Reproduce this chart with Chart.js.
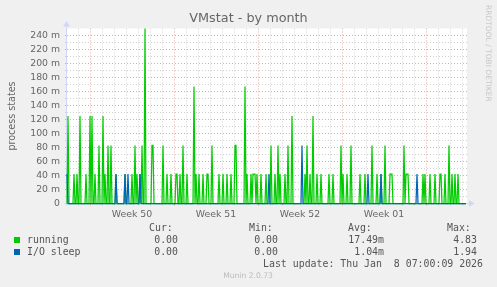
<!DOCTYPE html>
<html><head><meta charset="utf-8">
<script src="https://cdn.jsdelivr.net/npm/chart.js@4/dist/chart.umd.min.js"></script>
<style>html,body{margin:0;padding:0;background:#F0F0F0;}canvas{display:block;}</style>
</head><body>
<canvas id="c" width="497" height="287"></canvas>
<script>
const chartTitle = 'VMstat - by month';
const yAxisTitle = 'process states';
const seriesNames = ['running', 'I/O sleep'];
const seriesColors = ['#00CC00', '#0066B3'];
const startTime = Date.UTC(2025, 11, 6, 2);   // first 2-hour sample
const slotHours = 2;
const rangeHours = 800;
const weekLabels = ['Week 50', 'Week 51', 'Week 52', 'Week 01'];
const weekStartDates = ['2025-12-08', '2025-12-15', '2025-12-22', '2025-12-29', '2026-01-05'];
const yMajorTicks = [0, 0.02, 0.04, 0.06, 0.08, 0.10, 0.12, 0.14, 0.16, 0.18, 0.20, 0.22, 0.24];
const yMinorTicks = [0.01, 0.03, 0.05, 0.07, 0.09, 0.11, 0.13, 0.15, 0.17, 0.19, 0.21, 0.23];
const yMax = 0.25;

const running = [
0,.125,0,0,0,0,0,.042,0,0,.042,0,0,.125,0,0,0,0,0,.042,
0,0,0,.125,0,.125,0,0,.042,0,0,0,.083,0,0,0,.125,0,.042,0,
0,.083,0,0,.083,0,0,0,0,.042,0,0,0,0,0,0,0,0,.042,0,
0,0,0,0,0,.042,0,0,.083,0,.042,0,0,.042,0,.083,0,0,.25,0,
0,0,0,0,0,.083,.083,0,0,0,0,0,0,0,0,0,.083,0,0,0,
.042,0,0,0,.042,0,0,0,0,.042,.042,0,0,.042,0,0,.083,0,0,0,
.042,0,0,0,0,0,0,.167,0,.042,0,0,.042,0,0,0,.042,0,0,0,
.042,.042,0,0,0,.083,0,0,0,0,0,0,.042,0,0,0,.042,0,0,0,
.042,0,0,0,.042,0,0,0,.083,.083,0,0,0,0,0,0,0,0,.167,0,
.042,0,0,0,.042,0,.042,.042,.042,0,.042,0,0,0,.042,0,0,0,0,.042,
0,0,0,0,.083,0,0,0,.042,0,0,.083,0,.042,0,0,0,0,.042,0,
0,.083,0,0,0,.125,0,0,0,0,0,0,0,0,0,0,0,0,.042,0,
.083,0,0,.042,0,0,.125,0,0,0,.042,0,0,0,.042,0,0,0,0,0,
0,0,.042,0,0,0,.042,0,0,0,0,0,0,0,.083,0,.042,0,0,0,
.042,0,0,0,.083,0,0,0,0,0,0,0,0,.042,0,0,0,0,.042,0,
0,0,0,0,0,.083,0,0,0,0,.042,0,0,0,.042,0,0,0,.083,0,
0,0,0,.042,.042,.042,0,0,0,0,0,0,0,0,0,0,0,.083,0,.042,
.042,.042,0,0,0,0,0,0,0,0,0,0,0,0,0,0,.042,0,.042,0,
0,0,0,.042,0,0,0,0,.042,0,0,0,0,.042,.042,0,0,0,.042,0,
0,0,.083,0,0,.042,0,0,.042,0,0,.042,0,0,0,0,0,0,0,0
];
const ioSleep = [
.042,0,0,0,0,0,0,0,0,0,0,0,0,0,0,0,0,0,0,0,
0,0,0,0,0,0,0,0,0,0,0,0,0,0,0,0,0,0,0,0,
0,0,0,0,0,0,0,0,0,.042,0,0,0,0,0,0,0,0,.042,0,
0,.042,0,0,0,0,0,0,0,0,0,0,0,.042,0,0,0,0,0,0,
0,0,0,0,0,0,0,0,0,0,0,0,0,0,0,0,0,0,0,0,
0,0,0,0,0,0,0,0,0,0,0,0,0,0,0,0,0,0,0,0,
0,0,0,0,0,0,0,0,0,0,0,0,0,0,0,0,0,0,0,0,
0,0,0,0,0,0,0,0,0,0,0,0,0,0,0,0,0,0,0,0,
0,0,0,0,0,0,0,0,0,0,0,0,0,0,0,0,0,0,0,0,
0,0,0,0,0,0,0,0,0,0,0,0,0,0,0,0,0,0,0,0,
0,0,.042,0,0,0,0,0,0,0,0,0,0,0,0,0,0,0,0,0,
0,0,0,0,0,0,0,0,0,0,0,0,0,0,0,.083,0,0,0,0,
0,0,0,0,0,0,0,0,0,0,0,0,0,0,0,0,0,0,0,0,
0,0,0,0,0,0,0,0,0,0,0,0,0,0,0,0,0,0,0,0,
0,0,0,0,0,0,0,0,0,0,0,0,0,0,0,0,0,0,0,0,
0,.042,0,0,0,0,0,0,0,0,0,0,0,0,.042,0,0,0,0,0,
0,0,0,0,0,0,0,0,0,0,0,0,0,0,0,0,0,0,0,0,
0,0,0,0,0,0,0,0,0,0,.042,0,0,0,0,0,0,0,0,0,
0,0,0,0,0,0,0,0,0,0,0,0,0,0,0,0,0,0,0,0,
0,0,0,0,0,0,0,0,0,0,0,0,0,0,0,0,0,0,0,0
];
const statHeaders = ['Cur:', 'Min:', 'Avg:', 'Max:'];
const runningStats = ['0.00', '0.00', '17.49m', '4.83'];
const ioSleepStats = ['0.00', '0.00', '1.04m', '1.94'];
const lastUpdate = 'Last update: Thu Jan  8 07:00:09 2026';
const footerText = 'Munin 2.0.73';
const watermark = 'RRDTOOL / TOBI OETIKER';

// ---- derived helpers ----
const weekStartHours = weekStartDates.map(d => (Date.parse(d + 'T00:00:00Z') - startTime) / 3600000);
const weekLabelHours = weekLabels.map((_, i) => weekStartHours[i] + 84);
const dayHours = [];
for (let h = weekStartHours[0] % 24; h <= rangeHours; h += 24) dayHours.push(h);
const xTickValues = dayHours.concat(weekLabelHours).sort((a, b) => a - b);
const yTickValues = yMajorTicks.concat(yMinorTicks).sort((a, b) => a - b);

const MAJOR = '#E6A4A4', MINOR = '#D0D0D0', FONT = '#666666', AXIS = '#CFD6F8';
const isMajorY = v => yMajorTicks.some(t => Math.abs(t - v) < 1e-6);
const isWeekStart = v => weekStartHours.includes(v);
const isLabelX = v => weekLabelHours.includes(v);

const muninPlugin = {
  id: 'munin',
  beforeDraw(chart) {
    const {ctx, chartArea: a} = chart;
    ctx.save();
    ctx.fillStyle = '#F0F0F0';
    ctx.fillRect(0, 0, chart.width, chart.height);
    ctx.fillStyle = '#FFFFFF';
    ctx.fillRect(a.left, a.top, a.right - a.left, a.bottom - a.top);
    ctx.restore();
  },
  beforeDatasetsDraw(chart) {
    const {ctx, chartArea: a} = chart;
    ctx.save();
    ctx.strokeStyle = AXIS; ctx.fillStyle = AXIS; ctx.lineWidth = 1;
    const bx = Math.floor(a.left) - 0.5, by = Math.floor(a.bottom) + 0.5;
    ctx.beginPath();
    ctx.moveTo(bx - 2, by); ctx.lineTo(a.right + 2, by);
    ctx.moveTo(bx, by + 2); ctx.lineTo(bx, a.top - 2);
    ctx.stroke();
    ctx.beginPath();
    ctx.moveTo(a.right + 7.5, by); ctx.lineTo(a.right + 2, by - 3.5); ctx.lineTo(a.right + 2, by + 3.5); ctx.closePath(); ctx.fill();
    ctx.beginPath();
    ctx.moveTo(bx, a.top - 7.5); ctx.lineTo(bx - 3.5, a.top - 2); ctx.lineTo(bx + 3.5, a.top - 2); ctx.closePath(); ctx.fill();
    ctx.restore();
  },
  afterDraw(chart) {
    const ctx = chart.ctx;
    ctx.save();
    ctx.fillStyle = FONT;
    ctx.textBaseline = 'middle';
    ctx.font = '12.8px "DejaVu Sans"';
    ctx.textAlign = 'center';
    ctx.fillText(chartTitle, 248.5, 19);

    ctx.save();
    ctx.translate(12, 116);
    ctx.rotate(-Math.PI / 2);
    ctx.font = '9.6px "DejaVu Sans"';
    ctx.fillText(yAxisTitle, 0, 0);
    ctx.restore();

    ctx.save();
    ctx.translate(487.5, 5);
    ctx.rotate(Math.PI / 2);
    ctx.textAlign = 'left';
    ctx.fillStyle = '#C8C8C8';
    ctx.font = '7.5px "DejaVu Sans"';
    ctx.fillText(watermark, 0, 0);
    ctx.restore();

    ctx.font = '9.9px "DejaVu Sans Mono"';
    ctx.fillStyle = '#555555';
    ctx.textAlign = 'left';
    const headX = [149, 249, 348, 447];
    statHeaders.forEach((h, i) => ctx.fillText(h, headX[i], 228));
    const valX = [178, 278, 384, 477];
    const rows = [[seriesNames[0], runningStats, seriesColors[0], 240], [seriesNames[1], ioSleepStats, seriesColors[1], 252]];
    rows.forEach(([name, stats, col, y]) => {
      ctx.fillStyle = col;
      ctx.fillRect(14, y - 3, 6, 6);
      ctx.fillStyle = '#555555';
      ctx.textAlign = 'left';
      ctx.fillText(name, 27, y);
      ctx.textAlign = 'right';
      stats.forEach((s, i) => ctx.fillText(s, valX[i], y));
    });
    ctx.textAlign = 'right';
    ctx.fillText(lastUpdate, 483, 264);

    ctx.textAlign = 'center';
    ctx.fillStyle = '#BBBBBB';
    ctx.font = '7.6px "DejaVu Sans"';
    ctx.fillText(footerText, 248, 276);
    ctx.restore();
  }
};

const toPoints = arr => arr.map((v, i) => ({x: i * slotHours, y: v}));

new Chart(document.getElementById('c'), {
  type: 'line',
  data: {
    datasets: [
      {label: seriesNames[1], data: toPoints(ioSleep), borderColor: seriesColors[1], order: 0},
      {label: seriesNames[0], data: toPoints(running), borderColor: seriesColors[0], order: 1}
    ]
  },
  options: {
    responsive: false,
    devicePixelRatio: 1,
    animation: false,
    events: [],
    clip: 2,
    elements: {
      line: {borderWidth: 1.25, tension: 0, fill: false},
      point: {radius: 0}
    },
    layout: {padding: {left: 0, right: 30, top: 28.5, bottom: 0}},
    plugins: {legend: {display: false}, title: {display: false}, tooltip: {enabled: false}},
    scales: {
      x: {
        type: 'linear', min: 0, max: rangeHours,
        afterFit: s => { s.height = 83.5; },
        afterBuildTicks: s => { s.ticks = xTickValues.map(v => ({value: v})); },
        border: {display: false, dash: [1, 2]},
        grid: {
          drawTicks: true, tickLength: 2, borderDash: [1, 2],
          color: c => isLabelX(c.tick.value) ? 'rgba(0,0,0,0)' : (isWeekStart(c.tick.value) ? MAJOR : MINOR),
          tickColor: c => isLabelX(c.tick.value) ? 'rgba(0,0,0,0)' : (isWeekStart(c.tick.value) ? MAJOR : MINOR)
        },
        ticks: {
          autoSkip: false, maxRotation: 0, padding: 3,
          color: FONT, font: {family: 'DejaVu Sans', size: 9.4},
          callback: v => { const i = weekLabelHours.indexOf(v); return i >= 0 ? weekLabels[i] : ''; }
        }
      },
      y: {
        type: 'linear', min: 0, max: yMax,
        afterFit: s => { s.width = 67; },
        afterBuildTicks: s => { s.ticks = yTickValues.map(v => ({value: v})); },
        border: {display: false, dash: [1, 2]},
        grid: {
          drawTicks: true, tickLength: 2, borderDash: [1, 2],
          color: c => c.tick.value === 0 ? 'rgba(0,0,0,0)' : (isMajorY(c.tick.value) ? MAJOR : MINOR),
          tickColor: c => isMajorY(c.tick.value) ? MAJOR : MINOR
        },
        ticks: {
          autoSkip: false, padding: 5,
          color: FONT, font: {family: 'DejaVu Sans', size: 9.3},
          callback: v => isMajorY(v) ? (v === 0 ? '0' : Math.round(v * 1000) + ' m') : ''
        }
      }
    }
  },
  plugins: [muninPlugin]
});
</script>
</body></html>
